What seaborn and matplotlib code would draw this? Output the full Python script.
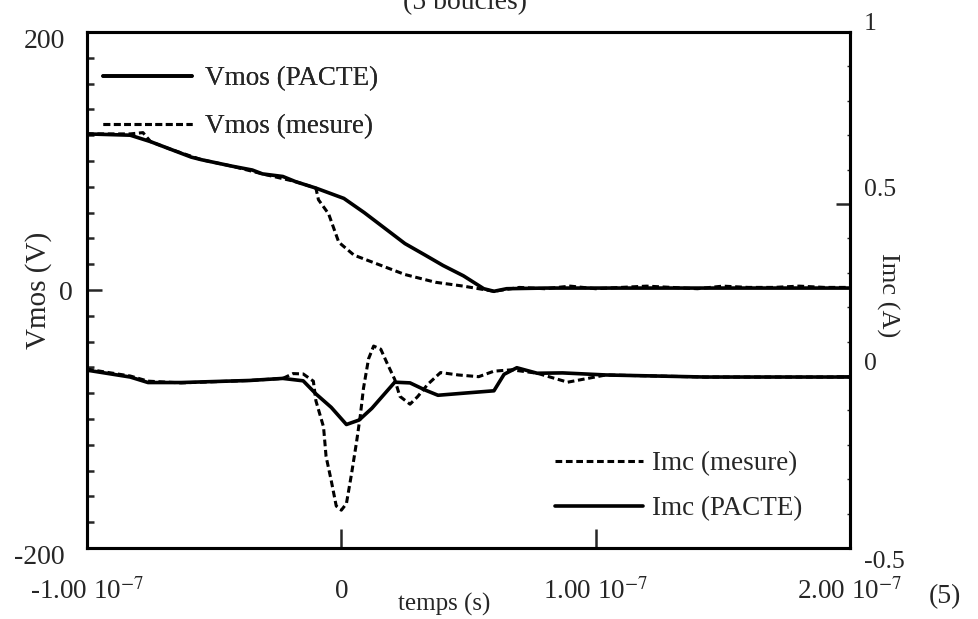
import numpy as np
import pandas as pd
import seaborn as sns
import matplotlib.pyplot as plt
import matplotlib.transforms as mtransforms
from matplotlib.lines import Line2D

# temps en unites de 1e-7 s
t_vmos_pacte = [-1.0, -0.83, -0.75, -0.71, -0.67, -0.59, -0.55, -0.43, -0.35, -0.31,
                -0.23, -0.18, -0.10, 0.01, 0.09, 0.17, 0.25, 0.33, 0.40, 0.48,
                0.56, 0.60, 0.65, 0.8, 1.0, 1.5, 2.0]
vmos_pacte = [121, 120, 115, 112, 109, 103, 101, 96, 93, 90,
              88, 84, 79, 71, 60, 48, 36, 27, 19, 11,
              1, -1, 1, 1.5, 1.5, 1.5, 1.5]

t_vmos_mes = [-1.0, -0.83, -0.78, -0.75, -0.67, -0.55, -0.43, -0.31, -0.18, -0.10,
              -0.09, -0.05, -0.01, 0.05, 0.13, 0.25, 0.37, 0.48, 0.60, 0.7,
              0.8, 0.9, 1.0, 1.1, 1.2, 1.3, 1.4, 1.5, 1.6, 1.7,
              1.8, 1.9, 2.0]
vmos_mes = [121, 121, 122, 115, 109, 101, 96, 90, 84, 79,
            70, 59, 37, 27, 21, 12, 6, 3, -1, 2,
            1, 3, 1, 2, 3, 2, 1, 3, 2, 2,
            3, 2, 2]

t_imc_pacte = [-1.0, -0.83, -0.76, -0.63, -0.36, -0.23, -0.15, -0.10, -0.04, 0.02,
               0.07, 0.12, 0.21, 0.27, 0.33, 0.38, 0.48, 0.60, 0.64, 0.69,
               0.77, 0.87, 1.04, 1.43, 2.0]
imc_pacte = [0.017, -0.003, -0.019, -0.019, -0.013, -0.007, -0.014, -0.052, -0.091, -0.141,
             -0.128, -0.094, -0.018, -0.020, -0.041, -0.056, -0.050, -0.043, 0.005, 0.024,
             0.008, 0.009, 0.003, -0.003, -0.003]

t_imc_mes = [-1.0, -0.83, -0.76, -0.63, -0.36, -0.23, -0.19, -0.15, -0.11, -0.10,
             -0.07, -0.06, -0.04, -0.02, 0.0, 0.02, 0.04, 0.06, 0.075, 0.087,
             0.107, 0.127, 0.155, 0.18, 0.21, 0.23, 0.27, 0.30, 0.34, 0.39,
             0.46, 0.54, 0.60, 0.67, 0.77, 0.89, 1.04, 1.43, 2.0]
imc_mes = [0.02, 0.0, -0.015, -0.02, -0.013, -0.007, 0.007, 0.006, -0.015, -0.072,
           -0.148, -0.234, -0.303, -0.378, -0.390, -0.371, -0.285, -0.191, -0.113, -0.036,
           0.05, 0.087, 0.078, 0.037, -0.01, -0.059, -0.082, -0.06, -0.024, 0.01,
           0.003, -0.002, 0.014, 0.018, 0.008, -0.018, 0.003, -0.003, -0.003]

x_ticks = [-1e-7, 0, 1e-7, 2e-7]
x_labels = ["-1.00 10$^{-7}$", "0", "1.00 10$^{-7}$", "2.00 10$^{-7}$"]

sns.set_style("ticks")
plt.rcParams['font.family'] = ['Liberation Serif', 'DejaVu Serif']
plt.rcParams['mathtext.fontset'] = 'stix'

fig = plt.figure(figsize=(9.79, 6.19), dpi=100)
ax = fig.add_axes([87/979, 1-548/619, (850-87)/979, (548-32)/619])
ax2 = ax.twinx()

dash = (0, (2.2, 1.2))
s = 1e-7
sns.lineplot(x=np.array(t_vmos_pacte)*s, y=vmos_pacte, ax=ax, color='black', lw=2.6)
sns.lineplot(x=np.array(t_vmos_mes)*s, y=vmos_mes, ax=ax, color='black', lw=2.2, linestyle=dash)
sns.lineplot(x=np.array(t_imc_pacte)*s, y=imc_pacte, ax=ax2, color='black', lw=2.6)
sns.lineplot(x=np.array(t_imc_mes)*s, y=imc_mes, ax=ax2, color='black', lw=2.2, linestyle=dash)

ax.set_xlim(-1e-7, 2e-7)
ax.set_ylim(-200, 200)
ax2.set_ylim(-0.5, 1)

ax.set_xticks(x_ticks)
ax.set_xticklabels(x_labels, fontsize=19.5)
ax.set_yticks([-200, 0, 200])
ax.set_yticklabels(["-200", "0", "200"], fontsize=20)
ax.set_yticks(np.arange(-180, 200, 20), minor=True)
ax2.set_yticks([-0.5, 0, 0.5, 1])
ax2.set_yticklabels(["-0.5", "0", "0.5", "1"], fontsize=18.5)
ax2.set_yticks(np.arange(-0.4, 1.0, 0.1), minor=True)

ax.tick_params(axis='x', direction='in', length=14, width=1.8, pad=22, top=False)
ax.tick_params(axis='y', which='major', direction='in', length=11, width=1.8, pad=16)
ax.tick_params(axis='y', which='minor', direction='in', length=5, width=1.8)
ax2.tick_params(axis='y', which='major', direction='in', length=10, width=1.8, pad=10)
ax2.tick_params(axis='y', which='minor', direction='in', length=2, width=1)

for a in (ax, ax2):
    for sp in a.spines.values():
        sp.set_linewidth(2.2)
        sp.set_color('black')
        sp.set_visible(True)

ax.set_xlabel("temps (s)", fontsize=18)
ax.xaxis.set_label_coords((444-87)/(850-87), -(593-548)/(548-32))
ax.set_ylabel("Vmos (V)", fontsize=21)
ax.yaxis.set_label_coords(-(87-52)/(850-87), (548-290)/(548-32))
ax2.set_ylabel("Imc (A)", fontsize=19, rotation=270, va='center')
ax2.yaxis.set_label_coords(1+(888-850)/(850-87), (548-295)/(548-32))


def shift(lbl, dx, dy):
    lbl.set_transform(lbl.get_transform() + mtransforms.ScaledTranslation(dx/100, dy/100, fig.dpi_scale_trans))


yl = ax.get_yticklabels()
shift(yl[0], 0, -6)
shift(yl[1], 8, 0)
shift(yl[2], 0, -6)
yr = ax2.get_yticklabels()
shift(yr[0], 0, -12)
shift(yr[1], 0, 14)
shift(yr[2], 0, 16)
shift(yr[3], 0, 10)

h1 = [Line2D([], [], color='black', lw=2.6),
      Line2D([], [], color='black', lw=2.2, linestyle=dash)]
leg1 = ax.legend(h1, ["Vmos (PACTE)", "Vmos (mesure)"], loc='upper left',
                 bbox_to_anchor=(103/979, 1-66/619), bbox_transform=fig.transFigure,
                 frameon=False, fontsize=19.5, handlelength=3.3, handletextpad=0.45,
                 labelspacing=0.85, borderpad=0, borderaxespad=0)
ax.add_artist(leg1)
h2 = [Line2D([], [], color='black', lw=2.2, linestyle=dash),
      Line2D([], [], color='black', lw=2.6)]
ax2.legend(h2, ["Imc (mesure)", "Imc (PACTE)"], loc='upper left',
           bbox_to_anchor=(555/979, 1-451/619), bbox_transform=fig.transFigure,
           frameon=False, fontsize=19.5, handlelength=3.25, handletextpad=0.35,
           labelspacing=0.75, borderpad=0, borderaxespad=0)

fig.text(465/979, 0.996, "(5 boucles)", fontsize=20, ha='center', va='center')
fig.text(945/979, 1-597/619, "(5)", fontsize=20, ha='center', va='center')

fig.savefig("out.png", dpi=100)
